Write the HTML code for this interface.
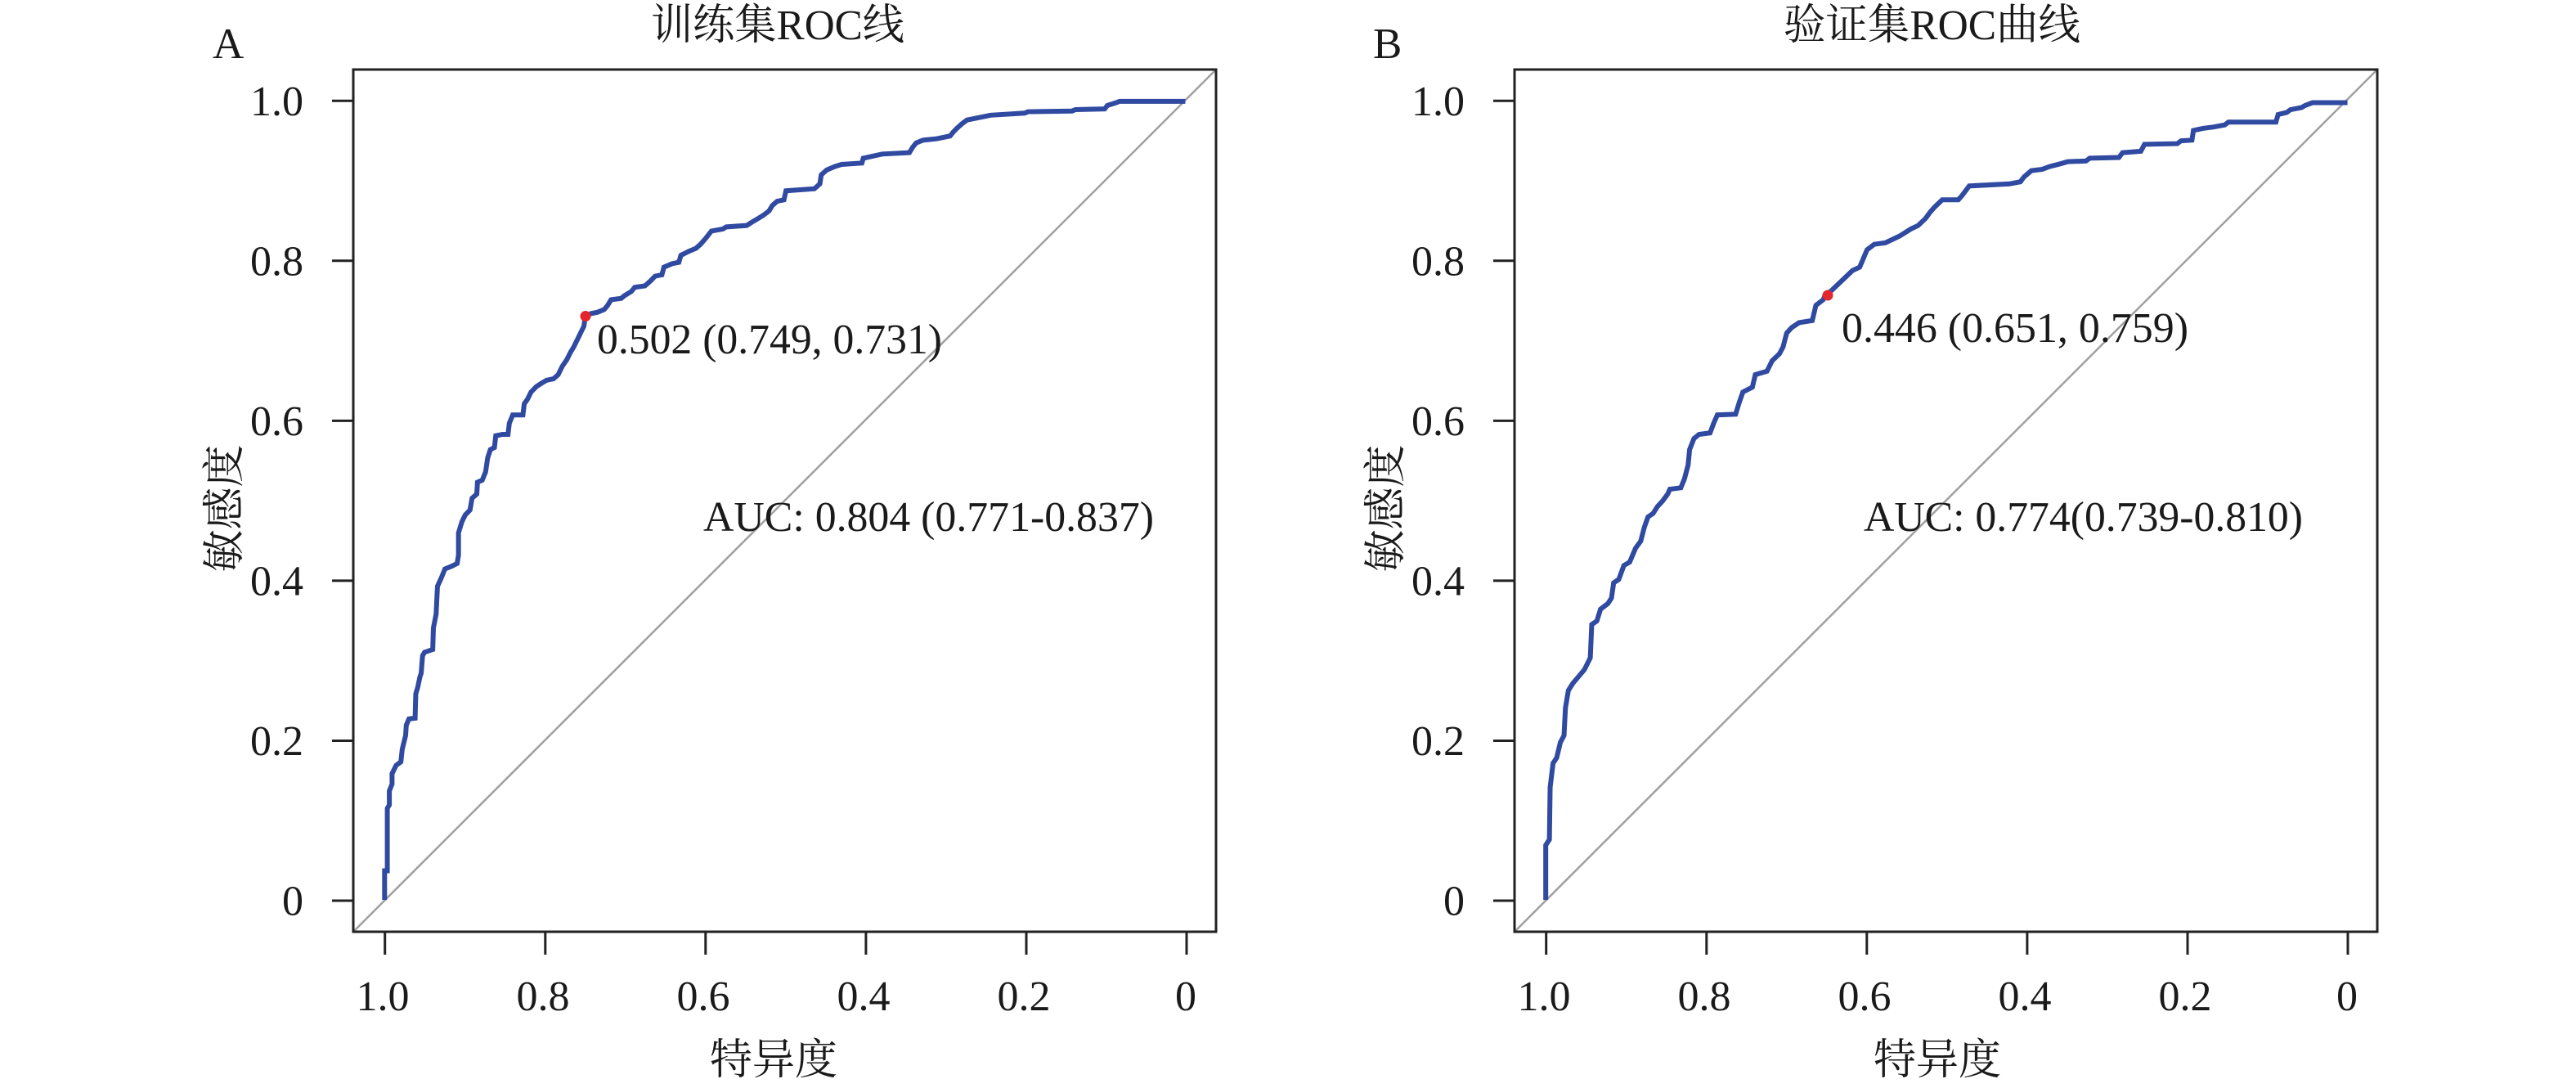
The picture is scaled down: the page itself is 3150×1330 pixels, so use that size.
<!DOCTYPE html>
<html>
<head>
<meta charset="utf-8">
<style>
html,body{margin:0;padding:0;background:#fff;}
svg{display:block;}
text{font-family:"Liberation Serif","Noto Serif CJK SC",serif;fill:#1a1a1a;}
</style>
</head>
<body>
<svg width="3150" height="1330" viewBox="0 0 3150 1330" xmlns="http://www.w3.org/2000/svg">
<rect x="0" y="0" width="3150" height="1330" fill="#fff"/>

<!-- Panel A -->
<g id="pa">
  <line x1="432" y1="1139" x2="1487" y2="85" stroke="#a0a0a0" stroke-width="2.5"/>
  <rect x="432" y="85" width="1055" height="1054" fill="none" stroke="#222" stroke-width="3"/>
  <g stroke="#222" stroke-width="3">
    <line x1="406" y1="1101" x2="432" y2="1101"/>
    <line x1="406" y1="905.5" x2="432" y2="905.5"/>
    <line x1="406" y1="709.9" x2="432" y2="709.9"/>
    <line x1="406" y1="514.4" x2="432" y2="514.4"/>
    <line x1="406" y1="318.8" x2="432" y2="318.8"/>
    <line x1="406" y1="123.3" x2="432" y2="123.3"/>
    <line x1="470.7" y1="1139" x2="470.7" y2="1167"/>
    <line x1="666.8" y1="1139" x2="666.8" y2="1167"/>
    <line x1="862.8" y1="1139" x2="862.8" y2="1167"/>
    <line x1="1058.9" y1="1139" x2="1058.9" y2="1167"/>
    <line x1="1255" y1="1139" x2="1255" y2="1167"/>
    <line x1="1451" y1="1139" x2="1451" y2="1167"/>
  </g>
  <g font-size="52" text-anchor="end">
    <text x="371" y="1118.5">0</text>
    <text x="371" y="923">0.2</text>
    <text x="371" y="727.4">0.4</text>
    <text x="371" y="531.9">0.6</text>
    <text x="371" y="336.3">0.8</text>
    <text x="371" y="140.8">1.0</text>
  </g>
  <g font-size="52" text-anchor="middle">
    <text x="468" y="1235">1.0</text>
    <text x="664" y="1235">0.8</text>
    <text x="860" y="1235">0.6</text>
    <text x="1056" y="1235">0.4</text>
    <text x="1252" y="1235">0.2</text>
    <text x="1450" y="1235">0</text>
  </g>
  <text x="946" y="1313" font-size="52" text-anchor="middle">特异度</text>
  <text transform="translate(292,621.5) rotate(-90)" font-size="52" text-anchor="middle">敏感度</text>
  <text x="796" y="48" font-size="52" textLength="310" lengthAdjust="spacingAndGlyphs">训练集ROC线</text>
  <text x="260" y="71" font-size="53">A</text>
  <text x="730" y="432" font-size="52" textLength="422" lengthAdjust="spacingAndGlyphs">0.502 (0.749, 0.731)</text>
  <text x="860" y="649" font-size="52" textLength="551" lengthAdjust="spacingAndGlyphs">AUC: 0.804 (0.771-0.837)</text>
</g>

<polyline transform="translate(200,0) scale(0.82910,0.84821)" vector-effect="non-scaling-stroke" fill="none" stroke="#2f4aa0" stroke-width="6" stroke-linejoin="miter"
points="326,1297 326,1255 330,1255 330,1165 333,1160 333,1140 337,1130 337,1115 343,1103 350,1098 352,1080 357,1060 358,1045 362,1036 371,1035 372,1000 375,990 378,976 380,970 382,945 385,940 397,936 398,905 402,885 404,845 410,832 415,820 425,816 433,812 435,800 435,768 440,752 445,742 452,735 455,718 462,712 463,695 470,692 475,680 478,660 482,648 488,645 490,628 500,626 508,626 510,610 515,598 530,598 532,582 537,575 542,565 550,557 558,552 565,548 575,546 582,540 588,528 595,518 600,508 605,500 610,490 615,480 620,470 622,456 630,452 640,450 650,446 655,440 660,432 675,430 680,426 690,420 695,414 710,412 718,405 725,398 735,396 738,385 750,380 760,378 763,368 775,362 785,358 792,352 800,343 808,333 825,330 830,327 860,325 868,320 875,316 885,310 893,304 898,296 905,290 915,288 918,275 960,272 968,265 970,252 978,245 990,240 1000,237 1030,235 1032,228 1060,222 1100,220 1105,212 1110,206 1120,202 1140,200 1160,196 1165,190 1170,185 1178,178 1185,173 1200,170 1220,166 1270,163 1275,161 1340,160 1345,158 1388,157 1392,152 1405,148 1410,146 1507,146"/>
<circle cx="716" cy="386.5" r="6.5" fill="#e3262b"/>

<!-- Panel B -->
<g transform="translate(1420,0)">
  <line x1="432" y1="1139" x2="1487" y2="85" stroke="#a0a0a0" stroke-width="2.5"/>
  <rect x="432" y="85" width="1055" height="1054" fill="none" stroke="#222" stroke-width="3"/>
  <g stroke="#222" stroke-width="3">
    <line x1="406" y1="1101" x2="432" y2="1101"/>
    <line x1="406" y1="905.5" x2="432" y2="905.5"/>
    <line x1="406" y1="709.9" x2="432" y2="709.9"/>
    <line x1="406" y1="514.4" x2="432" y2="514.4"/>
    <line x1="406" y1="318.8" x2="432" y2="318.8"/>
    <line x1="406" y1="123.3" x2="432" y2="123.3"/>
    <line x1="470.7" y1="1139" x2="470.7" y2="1167"/>
    <line x1="666.8" y1="1139" x2="666.8" y2="1167"/>
    <line x1="862.8" y1="1139" x2="862.8" y2="1167"/>
    <line x1="1058.9" y1="1139" x2="1058.9" y2="1167"/>
    <line x1="1255" y1="1139" x2="1255" y2="1167"/>
    <line x1="1451" y1="1139" x2="1451" y2="1167"/>
  </g>
  <g font-size="52" text-anchor="end">
    <text x="371" y="1118.5">0</text>
    <text x="371" y="923">0.2</text>
    <text x="371" y="727.4">0.4</text>
    <text x="371" y="531.9">0.6</text>
    <text x="371" y="336.3">0.8</text>
    <text x="371" y="140.8">1.0</text>
  </g>
  <g font-size="52" text-anchor="middle">
    <text x="468" y="1235">1.0</text>
    <text x="664" y="1235">0.8</text>
    <text x="860" y="1235">0.6</text>
    <text x="1056" y="1235">0.4</text>
    <text x="1252" y="1235">0.2</text>
    <text x="1450" y="1235">0</text>
  </g>
  <text x="949" y="1313" font-size="52" text-anchor="middle">特异度</text>
  <text transform="translate(292,621.5) rotate(-90)" font-size="52" text-anchor="middle">敏感度</text>
  <text x="761" y="48" font-size="52" textLength="363" lengthAdjust="spacingAndGlyphs">验证集ROC曲线</text>
  <text x="259" y="71" font-size="53">B</text>
  <text x="832" y="418" font-size="52" textLength="424" lengthAdjust="spacingAndGlyphs">0.446 (0.651, 0.759)</text>
  <text x="859" y="649" font-size="52" textLength="537" lengthAdjust="spacingAndGlyphs">AUC: 0.774(0.739-0.810)</text>
</g>

<polyline transform="translate(1600,0) scale(0.89286,0.84821)" vector-effect="non-scaling-stroke" fill="none" stroke="#2f4aa0" stroke-width="6" stroke-linejoin="miter"
points="325,1297 325,1218 330,1210 331,1135 335,1100 340,1092 345,1070 350,1060 352,1020 356,995 362,985 370,975 378,965 386,948 388,900 395,895 400,878 410,870 415,862 418,840 425,835 432,815 440,810 448,790 455,780 460,760 465,745 472,740 478,730 485,722 492,712 495,705 510,703 515,690 520,670 522,648 528,632 535,626 550,624 555,610 560,598 585,597 590,580 595,565 608,558 612,540 628,535 635,520 645,510 650,500 655,480 662,472 672,465 690,462 695,440 705,432 708,424 715,420 725,410 735,400 745,390 755,385 765,360 775,352 790,350 800,345 810,340 825,330 835,325 845,315 852,305 858,298 868,288 890,288 895,282 905,268 960,265 975,262 980,255 990,246 1005,244 1015,240 1030,236 1040,233 1065,232 1070,228 1110,227 1115,220 1140,218 1145,208 1190,207 1195,203 1210,202 1212,188 1225,185 1240,183 1255,180 1260,176 1325,176 1328,165 1340,162 1345,158 1360,155 1365,152 1375,148 1423,148"/>
<circle cx="2235" cy="361" r="6.5" fill="#e3262b"/>
</svg>
</body>
</html>
